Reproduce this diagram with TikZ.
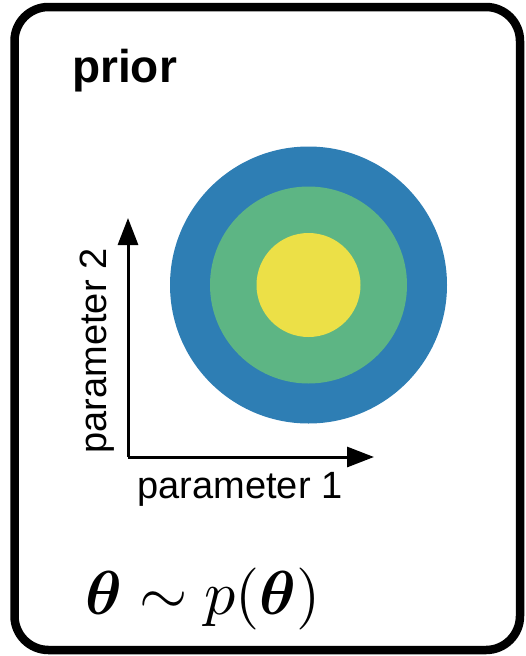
\documentclass[tikz,border=0pt]{standalone}
\usepackage{amsmath,amssymb}
\usepackage{graphicx}
\usepackage{fontspec}
\setsansfont{Liberation Sans}
\usetikzlibrary{arrows.meta,positioning}
\definecolor{kek}{RGB}{46,126,180}
\definecolor{zold}{RGB}{93,181,132}
\definecolor{sarga}{RGB}{236,224,71}
\tikzset{
  keret/.style={draw,line width=8.5pt,rounded corners=34pt},
  tengely/.style={line width=3pt,-{Triangle[length=27pt,width=20pt]}},
  cimke/.style={inner sep=0pt,font=\sffamily\fontsize{38}{40}\selectfont},
}

\begin{document}
\begin{tikzpicture}[x=1pt,y=-1pt]
  \useasboundingbox (0,0) rectangle (526,656);
  \draw[keret] (14.5,7) rectangle (520,650);
  \node[anchor=base west,inner sep=0pt,font=\sffamily\bfseries\fontsize{46}{50}\selectfont]
    (cim) at (72,82) {prior};
  % celok
  \coordinate (k) at (308.5,285);
  \fill[kek] (k) circle (138.5pt);
  \fill[zold] (k) circle (98.5pt);
  \fill[sarga] (k) circle (52pt);
  % tengelyek
  \coordinate (o) at (128,457);
  \coordinate (yv) at (128,218);
  \coordinate (xv) at (374,457);
  \draw[tengely] (o) -- (yv);
  \draw[tengely] (o) -- (xv);
  \node[cimke,rotate=90] (p2) at (97,351) {parameter 2};
  \node[cimke] (p1) at (240,489) {parameter 1};
  \node[anchor=base west,inner sep=0pt]
    (kep) at (85,614) {\scalebox{6.2}{$\boldsymbol{\theta} \sim p(\boldsymbol{\theta})$}};
\end{tikzpicture}
\end{document}
